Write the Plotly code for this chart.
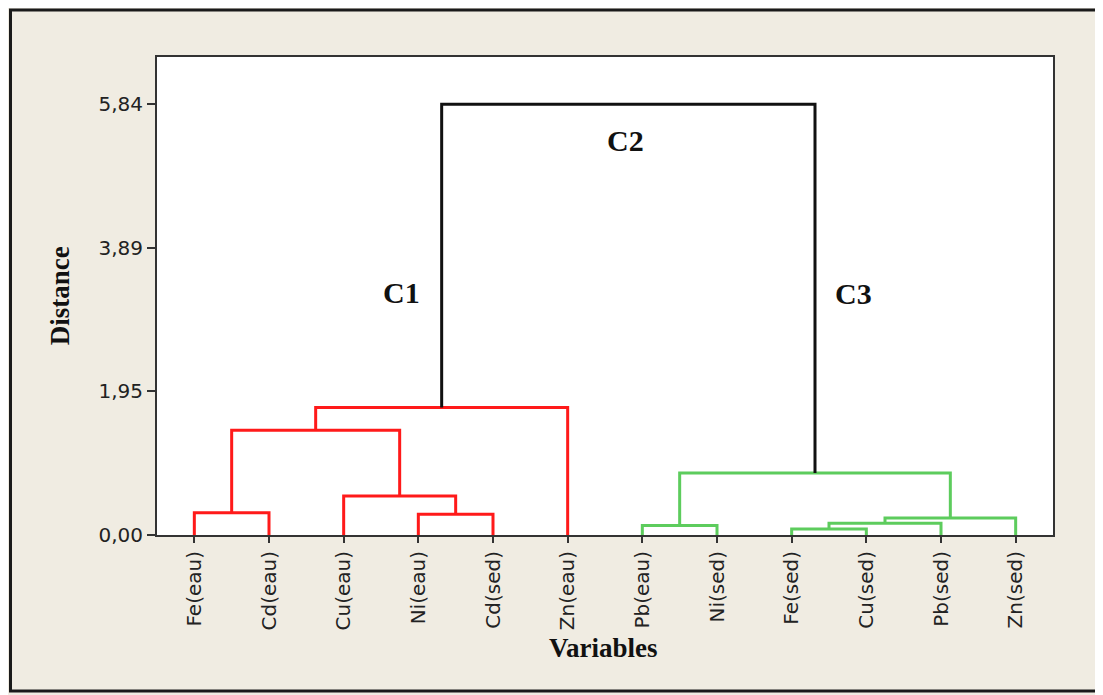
import plotly.graph_objects as go

# leaves, in the order they appear along the axis
leaves = ["Fe(eau)", "Cd(eau)", "Cu(eau)", "Ni(eau)", "Cd(sed)", "Zn(eau)",
          "Pb(eau)", "Ni(sed)", "Fe(sed)", "Cu(sed)", "Pb(sed)", "Zn(sed)"]

# merges: (left node, right node, distance, group); new nodes get ids 12, 13, ...
merge_left = [0, 3, 2, 12, 15, 8, 6, 17, 19, 18, 16]
merge_right = [1, 4, 13, 14, 5, 9, 7, 10, 11, 20, 21]
merge_height = [0.30, 0.28, 0.53, 1.42, 1.73, 0.08, 0.13, 0.16, 0.23, 0.84, 5.84]
merge_group = ["C1", "C1", "C1", "C1", "C1", "C3", "C3", "C3", "C3", "C3", "C2"]

y_ticks = [0.00, 1.95, 3.89, 5.84]

cluster_labels = ["C1", "C2", "C3"]
label_x = [3.78, 6.78, 9.83]
label_y = [3.29, 5.35, 3.28]

colors = {"C1": "#ff1a1a", "C3": "#5dcc5d", "C2": "#111111"}

# position and height of every node
pos = {i: i + 1 for i in range(len(leaves))}
hgt = {i: 0.0 for i in range(len(leaves))}
segs = {g: ([], []) for g in colors}
for k, (a, b, h, g) in enumerate(zip(merge_left, merge_right, merge_height, merge_group)):
    node = len(leaves) + k
    xs, ys = segs[g]
    xs += [pos[a], pos[a], pos[b], pos[b], None]
    ys += [hgt[a], h, h, hgt[b], None]
    pos[node] = (pos[a] + pos[b]) / 2
    hgt[node] = h

fig = go.Figure()
for g in ["C1", "C3", "C2"]:
    xs, ys = segs[g]
    fig.add_trace(go.Scatter(x=xs, y=ys, mode="lines",
                             line=dict(color=colors[g], width=3),
                             hoverinfo="skip", showlegend=False))

serif = dict(family="Liberation Serif", size=30, color="#111111", weight="bold")
for t, x, y in zip(cluster_labels, label_x, label_y):
    fig.add_annotation(x=x, y=y, text=t, showarrow=False, font=serif)

fig.add_annotation(xref="paper", yref="paper", x=0.498, y=-0.273, text="Variables",
                   showarrow=False, font=dict(family="Liberation Serif", size=27,
                                              color="#111111", weight="bold"))
fig.add_annotation(xref="paper", yref="paper", x=-0.127, y=0.5, text="Distance",
                   textangle=-90, showarrow=False,
                   font=dict(family="Liberation Serif", size=27, color="#111111",
                             weight="bold"))

# outer frame of the figure
fig.add_shape(type="rect", xref="paper", yref="paper", x0=-0.1635, x1=1.07,
              y0=-0.3264, y1=1.0983, line=dict(color="#1a1a1a", width=3))

tickfont = dict(family="DejaVu Sans", size=20, color="#222222")
fig.update_xaxes(range=[0.5, 12.5], tickvals=list(range(1, len(leaves) + 1)),
                 ticktext=leaves, tickangle=-90, tickfont=tickfont,
                 showgrid=False, zeroline=False, showline=True, mirror=True,
                 linecolor="#333333", linewidth=2, ticks="outside", ticklen=6,
                 tickwidth=2, tickcolor="#333333")
fig.update_yaxes(range=[0, 6.48], tickvals=y_ticks, tickformat=".2f",
                 tickfont=tickfont, showgrid=False, zeroline=False,
                 showline=True, mirror=True, linecolor="#333333", linewidth=2,
                 ticks="outside", ticklen=8, tickwidth=2, tickcolor="#333333")

fig.update_layout(width=1103, height=695, separators=",.",
                  margin=dict(l=149, r=58, t=49, b=168),
                  paper_bgcolor="#f0ece2", plot_bgcolor="white")

fig.write_html("out.html")
